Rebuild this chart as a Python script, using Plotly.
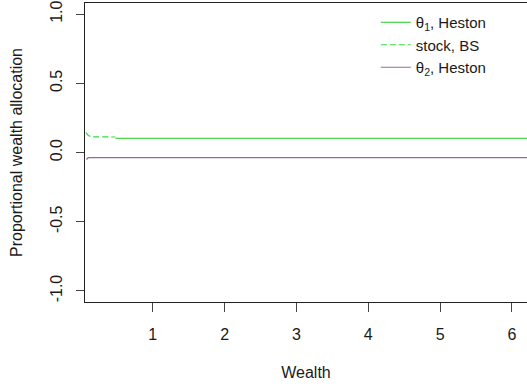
import plotly.graph_objects as go

# Data
wealth_bs = [0.07, 0.10, 0.14, 0.20, 0.30, 0.40, 0.48]
stock_bs = [0.144, 0.125, 0.113, 0.112, 0.112, 0.112, 0.112]

wealth_heston1 = [0.48, 1.0, 2.0, 3.0, 4.0, 5.0, 6.0, 7.0]
theta1_heston = [0.103, 0.103, 0.103, 0.103, 0.103, 0.103, 0.103, 0.103]

wealth_heston2 = [0.07, 0.09, 0.10, 0.5, 1.0, 2.0, 3.0, 4.0, 5.0, 6.0, 7.0]
theta2_heston = [-0.047, -0.047, -0.037, -0.037, -0.037, -0.037, -0.037, -0.037, -0.037, -0.037, -0.037]

x_ticks = [1, 2, 3, 4, 5, 6]
y_ticks = [-1.0, -0.5, 0.0, 0.5, 1.0]
y_ticklabels = ["-1.0", "-0.5", "0.0", "0.5", "1.0"]

FONT = "Liberation Sans, Arial, sans-serif"

fig = go.Figure()
fig.add_trace(go.Scatter(x=wealth_heston1, y=theta1_heston, mode="lines",
                         name="θ<sub>1</sub>, Heston",
                         line=dict(color="#1FCC1F", width=1.2)))
fig.add_trace(go.Scatter(x=wealth_bs, y=stock_bs, mode="lines",
                         name="stock, BS",
                         line=dict(color="#33E033", width=1.2, dash="6px,3px")))
fig.add_trace(go.Scatter(x=wealth_heston2, y=theta2_heston, mode="lines",
                         name="θ<sub>2</sub>, Heston",
                         line=dict(color="#8E6A9E", width=1.2)))

fig.update_layout(
    width=527, height=388,
    margin=dict(l=85, r=0, t=3, b=86, autoexpand=False),
    paper_bgcolor="white", plot_bgcolor="white",
    font=dict(family=FONT, size=16, color="#1a1a1a"),
    showlegend=True,
    legend=dict(x=0.658, y=0.99, xanchor="left", yanchor="top",
                bgcolor="rgba(0,0,0,0)", borderwidth=0,
                font=dict(size=15, family=FONT, color="#1a1a1a"),
                itemwidth=30, tracegroupgap=0),
    xaxis=dict(range=[0.057, 6.21], tickvals=x_ticks, ticks="outside",
               ticklen=9, tickcolor="#444444", showgrid=False, zeroline=False,
               showline=True, linecolor="#222222", linewidth=1, mirror=True,
               automargin=False, ticklabelstandoff=9,
               title=dict(text="Wealth", standoff=24, font=dict(size=16)),
               tickfont=dict(size=16)),
    yaxis=dict(range=[-1.08, 1.08], tickvals=y_ticks, ticktext=y_ticklabels,
               ticks="outside", ticklen=8, tickcolor="#444444", tickangle=-90,
               showgrid=False, zeroline=False, showline=True,
               linecolor="#222222", linewidth=1, automargin=False,
               ticklabelstandoff=8,
               title=dict(text="Proportional wealth allocation", standoff=20,
                          font=dict(size=16)),
               tickfont=dict(size=16)),
)

fig.write_html("out.html", config={"displayModeBar": False},
               post_script="document.body.style.margin='0px';document.body.style.overflow='hidden';")
